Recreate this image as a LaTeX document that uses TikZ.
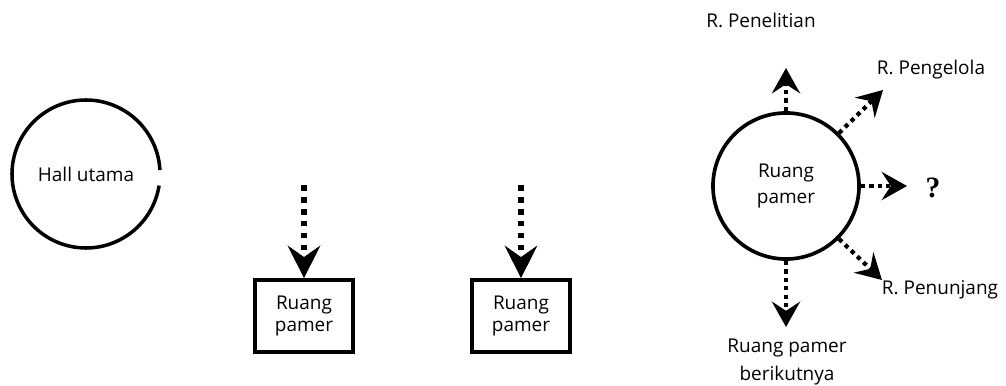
\documentclass[tikz,border=0pt]{standalone}
\usepackage{fontspec}
\setmainfont{Open Sans}
\newfontfamily\qfont{Liberation Serif}
\usetikzlibrary{arrows.meta}

\begin{document}
\begin{tikzpicture}[x=0.025cm, y=-0.025cm,
	every node/.style={font=\fontsize{13.5}{16}\selectfont},
	room/.style={circle, minimum size=3.65cm, inner sep=0pt, align=center},
	box/.style={draw, line width=2.6pt, minimum width=2.45cm, minimum height=1.8cm, align=center},
	bigflow/.style={line width=4pt, dash pattern=on 4pt off 4.5pt, -{Stealth[length=23pt, width=23pt, inset=8pt]}},
	flow/.style={line width=3pt, dash pattern=on 3pt off 3pt, -{Stealth[length=18pt, width=20pt, inset=6.5pt]}}]
	\useasboundingbox (0,0) rectangle (1006,386);

	% hall
	\node[room, minimum size=3.7cm] (hall) at (86,174) {Hall utama};
	\draw[line width=2.5pt] (hall.center) ++(9:74) arc[start angle=9, end angle=357, radius=74];

	% rooms in a row
	\node[box] (box1) at (304,316) {Ruang\\pamer};
	\node[box] (box2) at (521,316) {Ruang\\pamer};
	\coordinate (in1) at (304,185);
	\coordinate (in2) at (521,185);
	\draw[bigflow] (in1) -- (box1.north);
	\draw[bigflow] (in2) -- (box2.north);

	% room with exits
	\node[room, draw, line width=2.6pt] (pamer) at (786,186) {Ruang\\[2pt]pamer};
	\coordinate (up) at (786,68);
	\coordinate (ne) at (883,90);
	\coordinate (ea) at (907,186);
	\coordinate (se) at (882,280);
	\coordinate (dn) at (786,327);
	\draw[flow] (pamer.north) -- (up);
	\draw[flow] (pamer.45) -- (ne);
	\draw[flow] (pamer.east) -- (ea);
	\draw[flow] (pamer.-45) -- (se);
	\draw[flow] (pamer.south) -- (dn);

	\node (lit) at (761,20) {R. Penelitian};
	\node (kel) at (931,70) {R. Pengelola};
	\node (q) at (933,188) {\qfont\bfseries\fontsize{21}{24}\selectfont ?};
	\node (jang) at (940,290) {R. Penunjang};
	\node[align=center] (next) at (787,362) {Ruang pamer\\[4pt]berikutnya};
\end{tikzpicture}
\end{document}
